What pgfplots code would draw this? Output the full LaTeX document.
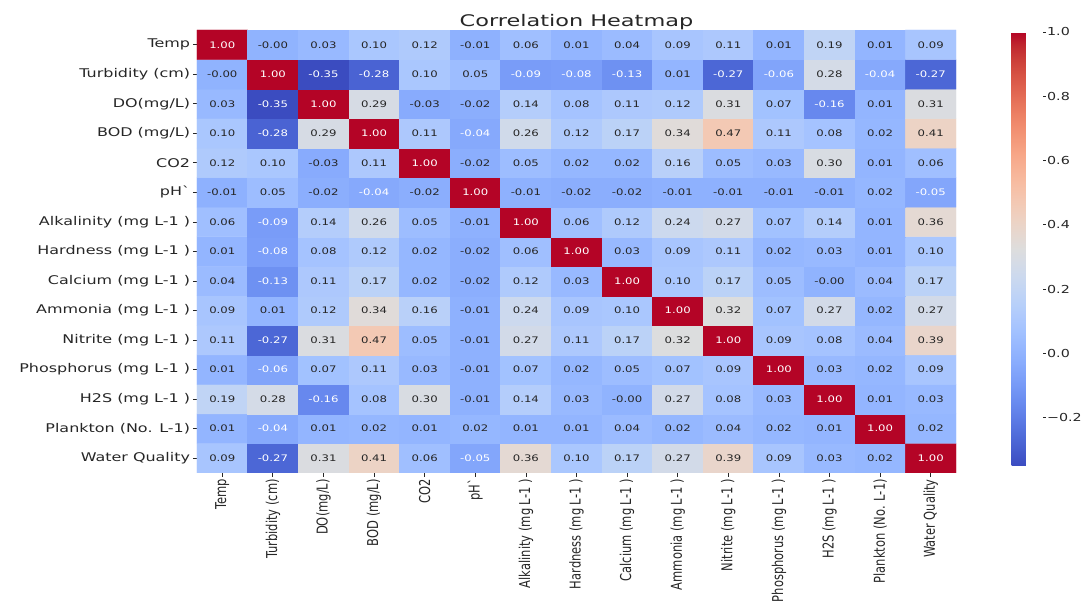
\documentclass[border=0pt]{standalone}
\usepackage{fontspec}
\setmainfont{DejaVu Sans}
\usepackage{pgfplots}
\usepackage{pgfplotstable}
\pgfplotsset{compat=1.18}
\definecolor{txt}{gray}{0.15}
\pgfplotstableread[row sep=\\]{
x y v\\
0 0 0.09\\ 1 0 -0.27\\ 2 0 0.31\\ 3 0 0.41\\ 4 0 0.06\\ 5 0 -0.05\\ 6 0 0.36\\ 7 0 0.10\\ 8 0 0.17\\ 9 0 0.27\\ 10 0 0.39\\ 11 0 0.09\\ 12 0 0.03\\ 13 0 0.02\\ 14 0 1.00\\
0 1 0.01\\ 1 1 -0.04\\ 2 1 0.01\\ 3 1 0.02\\ 4 1 0.01\\ 5 1 0.02\\ 6 1 0.01\\ 7 1 0.01\\ 8 1 0.04\\ 9 1 0.02\\ 10 1 0.04\\ 11 1 0.02\\ 12 1 0.01\\ 13 1 1.00\\ 14 1 0.02\\
0 2 0.19\\ 1 2 0.28\\ 2 2 -0.16\\ 3 2 0.08\\ 4 2 0.30\\ 5 2 -0.01\\ 6 2 0.14\\ 7 2 0.03\\ 8 2 -0.00\\ 9 2 0.27\\ 10 2 0.08\\ 11 2 0.03\\ 12 2 1.00\\ 13 2 0.01\\ 14 2 0.03\\
0 3 0.01\\ 1 3 -0.06\\ 2 3 0.07\\ 3 3 0.11\\ 4 3 0.03\\ 5 3 -0.01\\ 6 3 0.07\\ 7 3 0.02\\ 8 3 0.05\\ 9 3 0.07\\ 10 3 0.09\\ 11 3 1.00\\ 12 3 0.03\\ 13 3 0.02\\ 14 3 0.09\\
0 4 0.11\\ 1 4 -0.27\\ 2 4 0.31\\ 3 4 0.47\\ 4 4 0.05\\ 5 4 -0.01\\ 6 4 0.27\\ 7 4 0.11\\ 8 4 0.17\\ 9 4 0.32\\ 10 4 1.00\\ 11 4 0.09\\ 12 4 0.08\\ 13 4 0.04\\ 14 4 0.39\\
0 5 0.09\\ 1 5 0.01\\ 2 5 0.12\\ 3 5 0.34\\ 4 5 0.16\\ 5 5 -0.01\\ 6 5 0.24\\ 7 5 0.09\\ 8 5 0.10\\ 9 5 1.00\\ 10 5 0.32\\ 11 5 0.07\\ 12 5 0.27\\ 13 5 0.02\\ 14 5 0.27\\
0 6 0.04\\ 1 6 -0.13\\ 2 6 0.11\\ 3 6 0.17\\ 4 6 0.02\\ 5 6 -0.02\\ 6 6 0.12\\ 7 6 0.03\\ 8 6 1.00\\ 9 6 0.10\\ 10 6 0.17\\ 11 6 0.05\\ 12 6 -0.00\\ 13 6 0.04\\ 14 6 0.17\\
0 7 0.01\\ 1 7 -0.08\\ 2 7 0.08\\ 3 7 0.12\\ 4 7 0.02\\ 5 7 -0.02\\ 6 7 0.06\\ 7 7 1.00\\ 8 7 0.03\\ 9 7 0.09\\ 10 7 0.11\\ 11 7 0.02\\ 12 7 0.03\\ 13 7 0.01\\ 14 7 0.10\\
0 8 0.06\\ 1 8 -0.09\\ 2 8 0.14\\ 3 8 0.26\\ 4 8 0.05\\ 5 8 -0.01\\ 6 8 1.00\\ 7 8 0.06\\ 8 8 0.12\\ 9 8 0.24\\ 10 8 0.27\\ 11 8 0.07\\ 12 8 0.14\\ 13 8 0.01\\ 14 8 0.36\\
0 9 -0.01\\ 1 9 0.05\\ 2 9 -0.02\\ 3 9 -0.04\\ 4 9 -0.02\\ 5 9 1.00\\ 6 9 -0.01\\ 7 9 -0.02\\ 8 9 -0.02\\ 9 9 -0.01\\ 10 9 -0.01\\ 11 9 -0.01\\ 12 9 -0.01\\ 13 9 0.02\\ 14 9 -0.05\\
0 10 0.12\\ 1 10 0.10\\ 2 10 -0.03\\ 3 10 0.11\\ 4 10 1.00\\ 5 10 -0.02\\ 6 10 0.05\\ 7 10 0.02\\ 8 10 0.02\\ 9 10 0.16\\ 10 10 0.05\\ 11 10 0.03\\ 12 10 0.30\\ 13 10 0.01\\ 14 10 0.06\\
0 11 0.10\\ 1 11 -0.28\\ 2 11 0.29\\ 3 11 1.00\\ 4 11 0.11\\ 5 11 -0.04\\ 6 11 0.26\\ 7 11 0.12\\ 8 11 0.17\\ 9 11 0.34\\ 10 11 0.47\\ 11 11 0.11\\ 12 11 0.08\\ 13 11 0.02\\ 14 11 0.41\\
0 12 0.03\\ 1 12 -0.35\\ 2 12 1.00\\ 3 12 0.29\\ 4 12 -0.03\\ 5 12 -0.02\\ 6 12 0.14\\ 7 12 0.08\\ 8 12 0.11\\ 9 12 0.12\\ 10 12 0.31\\ 11 12 0.07\\ 12 12 -0.16\\ 13 12 0.01\\ 14 12 0.31\\
0 13 -0.00\\ 1 13 1.00\\ 2 13 -0.35\\ 3 13 -0.28\\ 4 13 0.10\\ 5 13 0.05\\ 6 13 -0.09\\ 7 13 -0.08\\ 8 13 -0.13\\ 9 13 0.01\\ 10 13 -0.27\\ 11 13 -0.06\\ 12 13 0.28\\ 13 13 -0.04\\ 14 13 -0.27\\
0 14 1.00\\ 1 14 -0.00\\ 2 14 0.03\\ 3 14 0.10\\ 4 14 0.12\\ 5 14 -0.01\\ 6 14 0.06\\ 7 14 0.01\\ 8 14 0.04\\ 9 14 0.09\\ 10 14 0.11\\ 11 14 0.01\\ 12 14 0.19\\ 13 14 0.01\\ 14 14 0.09\\
}\heat
\begin{document}
\begin{tikzpicture}
\begin{axis}[
  at={(0pt,0pt)}, anchor=south west,
  scale only axis, width=759pt, height=443pt,
  xmin=-0.5, xmax=14.5, ymin=-0.5, ymax=14.5,
  axis line style={draw=none},
  xtick={0,...,14}, ytick={0,...,14},
  xticklabels={Temp, Turbidity (cm), DO(mg/L), BOD (mg/L), CO2, pH\textasciigrave, Alkalinity (mg L-1 ), Hardness (mg L-1 ), Calcium (mg L-1 ), Ammonia (mg L-1 ), Nitrite (mg L-1 ), Phosphorus (mg L-1 ), H2S (mg L-1 ), Plankton (No. L-1), Water Quality},
  yticklabels={Water Quality, Plankton (No. L-1), H2S (mg L-1 ), Phosphorus (mg L-1 ), Nitrite (mg L-1 ), Ammonia (mg L-1 ), Calcium (mg L-1 ), Hardness (mg L-1 ), Alkalinity (mg L-1 ), pH\textasciigrave, CO2, BOD (mg/L), DO(mg/L), Turbidity (cm), Temp},
  tick align=outside, tick pos=left,
  major tick length=4pt, tick style={color=txt, line width=0.8pt},
  x tick label style={rotate=90, anchor=east, yscale=1.3, font=\fontsize{11.5}{13}\selectfont, text=txt, inner sep=2pt},
  y tick label style={anchor=east, xscale=1.33, font=\fontsize{12}{14}\selectfont, text=txt, inner sep=2pt},
  colormap={coolwarm}{rgb255=(59,76,192) rgb255=(68,90,204) rgb255=(77,104,215) rgb255=(87,117,225) rgb255=(98,130,234) rgb255=(108,142,241) rgb255=(119,154,247) rgb255=(130,165,251) rgb255=(141,176,254) rgb255=(152,185,255) rgb255=(163,194,255) rgb255=(174,201,253) rgb255=(184,208,249) rgb255=(194,213,244) rgb255=(204,217,238) rgb255=(213,219,230) rgb255=(221,221,221) rgb255=(229,216,209) rgb255=(236,211,197) rgb255=(241,204,185) rgb255=(245,196,173) rgb255=(247,187,160) rgb255=(247,177,148) rgb255=(247,166,135) rgb255=(244,154,123) rgb255=(241,141,111) rgb255=(236,127,99) rgb255=(229,112,88) rgb255=(222,96,77) rgb255=(213,80,66) rgb255=(203,62,56) rgb255=(192,40,47) rgb255=(180,4,38)},
  point meta min=-0.35, point meta max=1,
  colorbar,
  colorbar style={
    at={(parent axis.north east)}, anchor=north west, xshift=47pt, yshift=-2pt,
    scale only axis, width=31pt, height=434pt,
    axis line style={draw=none},
    ytick={-0.2,0,0.2,0.4,0.6,0.8,1},
    yticklabels={−0.2,0.0,0.2,0.4,0.6,0.8,1.0},
    ytick pos=right, yticklabel pos=right, tick align=outside,
    major tick length=3pt, tick style={color=txt, line width=0.8pt},
    yticklabel style={anchor=west, xscale=1.3, font=\fontsize{11}{13}\selectfont, text=txt, inner sep=1pt},
  },
  title={Correlation Heatmap},
  title style={at={(0.5,1)}, anchor=base, yshift=-3pt, inner sep=0pt, xscale=1.4, font=\fontsize{16}{18}\selectfont, text=txt},
]
\addplot[matrix plot*, mesh/cols=15, point meta=explicit] table[meta=v] {\heat};
\addplot[only marks, mark=none, point meta=explicit symbolic,
  nodes near coords={\pgfmathparse{or(\pgfplotspointmeta<-0.035,\pgfplotspointmeta>0.7)}\ifdim\pgfmathresult pt>0.5pt\color{white}\fi\pgfplotspointmeta},
  every node near coord/.append style={anchor=center, xscale=1.3, font=\fontsize{9}{10}\selectfont, text=txt, inner sep=0pt},
] table[meta=v] {\heat};
\end{axis}
\pgfresetboundingbox
\path (-197pt,-136pt) rectangle (889pt,473pt);
\end{tikzpicture}
\end{document}
